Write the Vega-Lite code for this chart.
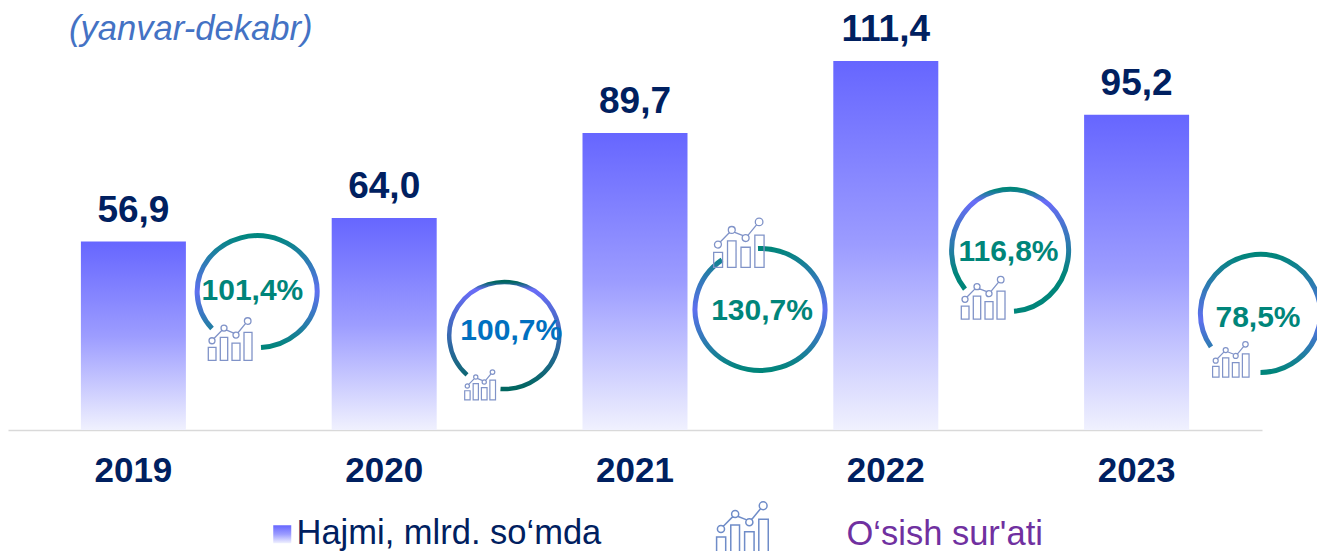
{
"$schema":"https://vega.github.io/schema/vega-lite/v6.json",
"autosize":{"type":"none"},
"padding":{"left":8,"right":55,"top":0,"bottom":121},
"width":1254,"height":430,
"background":"white",
"config":{"view":{"stroke":null},"font":"Liberation Sans"},
"title":{"text":"(yanvar-dekabr)","anchor":"start","frame":"group","dx":61,"dy":75,"baseline":"alphabetic","offset":0,"font":"Liberation Sans","fontSize":34.6,"fontStyle":"italic","fontWeight":"normal","color":"#4472C4","limit":600},
"data":{"values":[
{"year":2019,"value":56.9,"valueLabel":"56,9","growth":"101,4%"},
{"year":2020,"value":64.0,"valueLabel":"64,0","growth":"100,7%"},
{"year":2021,"value":89.7,"valueLabel":"89,7","growth":"130,7%"},
{"year":2022,"value":111.4,"valueLabel":"111,4","growth":"116,8%"},
{"year":2023,"value":95.2,"valueLabel":"95,2","growth":"78,5%"}
]},
"encoding":{
"x":{"field":"year","type":"ordinal","scale":{"type":"band","paddingInner":0,"paddingOuter":0},
"axis":{"title":null,"labelAngle":0,"ticks":false,"grid":false,"domainColor":"#d9d9d9","domainWidth":1.5,"labelFont":"Liberation Sans","labelFontSize":35,"labelFontWeight":"bold","labelColor":"#002060","labelPadding":23}},
"y":{"field":"value","type":"quantitative","scale":{"domain":[0,129.83],"nice":false,"zero":true},"axis":null}
},
"layer":[
{"mark":{"type":"bar","size":105,"fill":{"gradient":"linear","x1":0,"y1":0,"x2":0,"y2":1,"stops":[{"offset":0,"color":"#6666FF"},{"offset":0.5,"color":"#9C9CFF"},{"offset":1,"color":"#F0F1FE"}]}},
"encoding":{"opacity":{"datum":"Hajmi, mlrd. so‘mda","type":"nominal","scale":{"range":[1]},
"legend":{"title":null,"orient":"none","legendX":257,"legendY":517,"labelFont":"Liberation Sans","labelFontSize":34.5,"labelLimit":600,"labelColor":"#002060","symbolType":"square","symbolSize":324,"symbolStrokeWidth":0,"labelOffset":-3}}}},
{"mark":{"type":"text","fontSize":37,"fontWeight":"bold","font":"Liberation Sans","dy":-20,"baseline":"alphabetic","color":"#002060"},"encoding":{"text":{"field":"valueLabel"}}},

{"transform":[{"filter":"datum.year==2019"}],"mark":{"type":"point","xOffset":123.6,"shape":"M4,56A60,56 0 1 0 -45,37","filled":false,"opacity":1,"strokeWidth":5,"stroke":{"gradient":"linear","x1":0,"y1":0,"x2":0,"y2":1,"stops":[{"offset":0,"color":"#00877F"},{"offset":0.5,"color":"#5F70F0"},{"offset":1,"color":"#00857A"}]}},"encoding":{"y":{"datum":41.8},"size":{"value":4}}},
{"transform":[{"filter":"datum.year==2020"}],"mark":{"type":"point","xOffset":120.3,"shape":"M-4,53A55,53.5 0 1 0 -37.5,39","filled":false,"opacity":1,"strokeWidth":4.5,"stroke":{"gradient":"linear","x1":0,"y1":0,"x2":0,"y2":1,"stops":[{"offset":0,"color":"#00665F"},{"offset":0.07,"color":"#6A6CF8"},{"offset":1,"color":"#00665F"}]}},"encoding":{"y":{"datum":28.4},"size":{"value":4}}},
{"transform":[{"filter":"datum.year==2021"}],"mark":{"type":"point","xOffset":125.5,"shape":"M-2.5,-61A65,61 0 1 1 -38.5,-49.5","filled":false,"opacity":1,"strokeWidth":5,"stroke":{"gradient":"linear","x1":0,"y1":0,"x2":0,"y2":1,"stops":[{"offset":0,"color":"#00857A"},{"offset":0.5,"color":"#5F70F0"},{"offset":1,"color":"#00857A"}]}},"encoding":{"y":{"datum":36.4},"size":{"value":4}}},
{"transform":[{"filter":"datum.year==2022"}],"mark":{"type":"point","xOffset":124.2,"shape":"M4,61A58.5,61 0 1 0 -45,39","filled":false,"opacity":1,"strokeWidth":5,"stroke":{"gradient":"linear","x1":0,"y1":0,"x2":0,"y2":1,"stops":[{"offset":0,"color":"#00857A"},{"offset":0.1,"color":"#6A6CF8"},{"offset":0.7,"color":"#00857A"},{"offset":1,"color":"#00857A"}]}},"encoding":{"y":{"datum":54.3},"size":{"value":4}}},
{"transform":[{"filter":"datum.year==2023"}],"mark":{"type":"point","xOffset":123.9,"shape":"M0,59A60,59 0 1 0 -49.5,33.5","filled":false,"opacity":1,"strokeWidth":5,"stroke":{"gradient":"linear","x1":0,"y1":0,"x2":0,"y2":1,"stops":[{"offset":0,"color":"#00857A"},{"offset":0.55,"color":"#5F70F0"},{"offset":1,"color":"#00857A"}]}},"encoding":{"y":{"datum":35.2},"size":{"value":4}}},

{"transform":[{"filter":"datum.year==2019"}],"mark":{"type":"text","xOffset":119,"fontSize":30,"fontWeight":"bold","color":"#00857A","baseline":"middle"},"encoding":{"text":{"field":"growth"},"y":{"datum":42}}},
{"transform":[{"filter":"datum.year==2020"}],"mark":{"type":"text","xOffset":127,"fontSize":30,"fontWeight":"bold","color":"#0070C0","baseline":"middle"},"encoding":{"text":{"field":"growth"},"y":{"datum":29.9}}},
{"transform":[{"filter":"datum.year==2021"}],"mark":{"type":"text","xOffset":127,"fontSize":30,"fontWeight":"bold","color":"#00857A","baseline":"middle"},"encoding":{"text":{"field":"growth"},"y":{"datum":35.9}}},
{"transform":[{"filter":"datum.year==2022"}],"mark":{"type":"text","xOffset":122.7,"fontSize":30,"fontWeight":"bold","color":"#00857A","baseline":"middle"},"encoding":{"text":{"field":"growth"},"y":{"datum":53.7}}},
{"transform":[{"filter":"datum.year==2023"}],"mark":{"type":"text","xOffset":121.4,"fontSize":30,"fontWeight":"bold","color":"#00857A","baseline":"middle"},"encoding":{"text":{"field":"growth"},"y":{"datum":33.7}}},

{"transform":[{"filter":"datum.year==2019"}],"mark":{"type":"point","xOffset":96.6,"filled":false,"opacity":1,"strokeWidth":1.3,"stroke":"#8093C8"},"encoding":{"y":{"datum":27.4},"size":{"value":4},"shape":{"datum":"O‘sish sur'ati","type":"nominal","scale":{"range":["M-21.7,8.2H-14V21.2H-21.7ZM-9.7,-1.8H-2.3V21.2H-9.7ZM2,3.8H10V21.2H2ZM14,-6.8H22V21.2H14ZM-15,1.5A3,3 0 1 1 -21,1.5A3,3 0 1 1 -15,1.5ZM-3,-11.2A3,3 0 1 1 -9,-11.2A3,3 0 1 1 -3,-11.2ZM9,-4.2A3,3 0 1 1 3,-4.2A3,3 0 1 1 9,-4.2ZM21,-18.2A3.3,3.3 0 1 1 14.4,-18.2A3.3,3.3 0 1 1 21,-18.2ZM-16,-0.8L-8,-9M-4,-9.3L3.8,-6.2M8,-6.5L15.6,-15.8"]},"legend":{"title":null,"orient":"none","legendX":717,"legendY":510,"labelFont":"Liberation Sans","labelFontSize":34.5,"labelLimit":600,"labelColor":"#7030A0","symbolSize":5.59,"symbolStrokeColor":"#6F8CC8","symbolStrokeWidth":1.5,"symbolFillColor":"transparent","labelOffset":87,"encoding":{"labels":{"dy":{"value":8}}}}}}},
{"transform":[{"filter":"datum.year==2020"}],"mark":{"type":"point","xOffset":95.8,"filled":false,"opacity":1,"strokeWidth":1.2,"stroke":"#8093C8"},"encoding":{"y":{"datum":13.6},"size":{"value":1.99},"shape":{"datum":"O‘sish sur'ati","type":"nominal"}}},
{"transform":[{"filter":"datum.year==2021"}],"mark":{"type":"point","xOffset":103.7,"filled":false,"opacity":1,"strokeWidth":1.3,"stroke":"#8093C8"},"encoding":{"y":{"datum":56.5},"size":{"value":5.32},"shape":{"datum":"O‘sish sur'ati","type":"nominal"}}},
{"transform":[{"filter":"datum.year==2022"}],"mark":{"type":"point","xOffset":97.2,"filled":false,"opacity":1,"strokeWidth":1.3,"stroke":"#8093C8"},"encoding":{"y":{"datum":39.9},"size":{"value":4},"shape":{"datum":"O‘sish sur'ati","type":"nominal"}}},
{"transform":[{"filter":"datum.year==2023"}],"mark":{"type":"point","xOffset":94.1,"filled":false,"opacity":1,"strokeWidth":1.2,"stroke":"#8093C8"},"encoding":{"y":{"datum":21.3},"size":{"value":2.78},"shape":{"datum":"O‘sish sur'ati","type":"nominal"}}}
]
}
